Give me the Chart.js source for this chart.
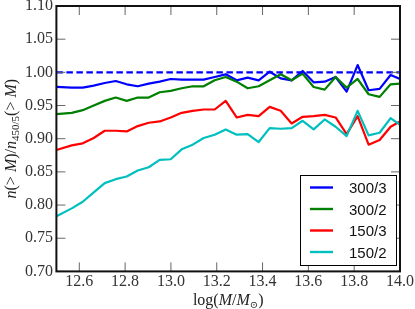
<!DOCTYPE html>
<html>
<head>
<meta charset="utf-8">
<script src="https://cdn.jsdelivr.net/npm/chart.js@4/dist/chart.umd.min.js"></script>
<style>
  html, body { margin: 0; padding: 0; background: #fff; }
  #wrap { width: 415px; height: 309px; }
</style>
</head>
<body>
<div id="wrap"><canvas id="c" width="415" height="309"></canvas></div>
<script>
// ---- data ----
const xs = [12.500, 12.567, 12.615, 12.663, 12.711, 12.759, 12.807, 12.855, 12.903, 12.951,
            12.999, 13.047, 13.095, 13.143, 13.191, 13.239, 13.287, 13.335, 13.383, 13.431,
            13.479, 13.527, 13.575, 13.623, 13.671, 13.719, 13.767, 13.815, 13.863, 13.911,
            13.959, 14.000];
const s300_3 = [0.978, 0.977, 0.977, 0.980, 0.984, 0.987, 0.982, 0.979, 0.983, 0.986,
                0.990, 0.989, 0.989, 0.989, 0.993, 0.997, 0.988, 0.992, 0.988, 1.001,
                0.991, 0.988, 1.002, 0.985, 0.986, 0.993, 0.971, 1.011, 0.973, 0.975,
                0.996, 0.990];
const s300_2 = [0.937, 0.939, 0.943, 0.950, 0.957, 0.962, 0.957, 0.962, 0.962, 0.970,
                0.972, 0.976, 0.979, 0.979, 0.988, 0.993, 0.986, 0.976, 0.979, 0.988,
                0.997, 0.988, 0.998, 0.978, 0.974, 0.993, 0.977, 0.990, 0.967, 0.963,
                0.982, 0.983];
const s150_3 = [0.883, 0.890, 0.893, 0.901, 0.912, 0.912, 0.911, 0.919, 0.924, 0.926,
                0.932, 0.939, 0.942, 0.944, 0.944, 0.957, 0.932, 0.936, 0.934, 0.948,
                0.942, 0.923, 0.933, 0.934, 0.936, 0.932, 0.907, 0.934, 0.891, 0.898,
                0.918, 0.926];
const s150_2 = [0.783, 0.795, 0.805, 0.819, 0.833, 0.839, 0.843, 0.852, 0.857, 0.868,
                0.869, 0.884, 0.891, 0.901, 0.906, 0.914, 0.906, 0.907, 0.895, 0.916,
                0.915, 0.916, 0.927, 0.914, 0.929, 0.918, 0.904, 0.942, 0.905, 0.909,
                0.931, 0.921];
const refX = [12.5, 14.0];
const refY = [1.0, 1.0];
const seriesNames = ['300/3', '300/2', '150/3', '150/2'];
const seriesColors = ['#0000ff', '#008000', '#ff0000', '#00bfbf'];
const xTicks = [12.6, 12.8, 13.0, 13.2, 13.4, 13.6, 13.8, 14.0];
const yTicks = [0.70, 0.75, 0.80, 0.85, 0.90, 0.95, 1.00, 1.05, 1.10];

const seriesValues = [s300_3, s300_2, s150_3, s150_2];
const pts = (xa, ya) => xa.map((x, i) => ({ x: x, y: ya[i] }));

const datasets = seriesValues.map((vals, i) => ({
  label: seriesNames[i],
  data: pts(xs, vals),
  borderColor: seriesColors[i],
  backgroundColor: seriesColors[i],
  borderWidth: 2.2,
  pointRadius: 0,
  tension: 0,
  borderJoinStyle: 'round',
  clip: 0,
  order: 4 - i
}));
datasets.push({
  label: 'ref',
  data: pts(refX, refY),
  borderColor: '#0000ff',
  borderWidth: 2.4,
  borderDash: [6.5, 3.5],
  pointRadius: 0,
  clip: 0,
  order: 0
});

const SERIF = '"Liberation Serif", "DejaVu Serif", serif';
const SANS = '"Liberation Sans", Arial, sans-serif';

function drawRich(ctx, segs, cx, baseY) {
  let total = 0;
  segs.forEach(s => {
    ctx.font = (s.italic ? 'italic ' : '') + s.size + 'px ' + SERIF;
    s.w = ctx.measureText(s.t).width;
    total += s.w;
  });
  let x = cx - total / 2;
  segs.forEach(s => {
    ctx.font = (s.italic ? 'italic ' : '') + s.size + 'px ' + SERIF;
    ctx.fillText(s.t, x, baseY + (s.dy || 0));
    x += s.w;
  });
}

const decor = {
  id: 'decor',
  afterDatasetsDraw(chart) {
    const { ctx, chartArea: a, scales: { x, y } } = chart;
    ctx.save();
    // inward ticks on all four sides
    ctx.strokeStyle = '#666';
    ctx.lineWidth = 1;
    const L = 9;
    ctx.beginPath();
    xTicks.forEach(v => {
      const px = x.getPixelForValue(v);
      ctx.moveTo(px, a.bottom); ctx.lineTo(px, a.bottom - L);
      ctx.moveTo(px, a.top); ctx.lineTo(px, a.top + L);
    });
    yTicks.forEach(v => {
      const py = y.getPixelForValue(v);
      ctx.moveTo(a.left, py); ctx.lineTo(a.left + L, py);
      ctx.moveTo(a.right, py); ctx.lineTo(a.right - L, py);
    });
    ctx.stroke();
    // frame
    ctx.strokeStyle = '#111';
    ctx.lineWidth = 2;
    ctx.strokeRect(a.left, a.top, a.right - a.left, a.bottom - a.top);

    // legend
    const bw = 96, bh = 90;
    const bx = a.right - 4 - bw, by = a.bottom - 6.4 - bh;
    ctx.fillStyle = '#fff';
    ctx.fillRect(bx, by, bw, bh);
    ctx.strokeStyle = '#000';
    ctx.lineWidth = 1;
    ctx.strokeRect(bx + 0.5, by + 0.5, bw, bh);
    ctx.font = '15px ' + SANS;
    ctx.textBaseline = 'middle';
    ctx.textAlign = 'left';
    seriesNames.forEach((name, i) => {
      const ry = by + 12.5 + 21.5 * i;
      ctx.strokeStyle = seriesColors[i];
      ctx.lineWidth = 2.4;
      ctx.beginPath();
      ctx.moveTo(bx + 10, ry); ctx.lineTo(bx + 33, ry);
      ctx.stroke();
      ctx.fillStyle = '#111';
      ctx.fillText(name, bx + 49, ry + 1.5);
    });

    // axis titles
    ctx.fillStyle = '#222';
    ctx.textBaseline = 'alphabetic';
    ctx.textAlign = 'left';
    drawRich(ctx, [
      { t: 'log(', size: 16 },
      { t: 'M', size: 16, italic: true },
      { t: '/', size: 16 },
      { t: 'M', size: 16, italic: true },
      { t: '\u2299', size: 10, dy: 3 },
      { t: ')', size: 16 }
    ], (a.left + a.right) / 2, 304.5);

    ctx.translate(15.5, (a.top + a.bottom) / 2);
    ctx.rotate(-Math.PI / 2);
    drawRich(ctx, [
      { t: 'n', size: 16, italic: true },
      { t: '(> ', size: 16 },
      { t: 'M', size: 16, italic: true },
      { t: ')/', size: 16 },
      { t: 'n', size: 16, italic: true },
      { t: '450/5', size: 11, dy: 3.5 },
      { t: '(> ', size: 16 },
      { t: 'M', size: 16, italic: true },
      { t: ')', size: 16 }
    ], 0, 0);
    ctx.restore();
  }
};

new Chart(document.getElementById('c'), {
  type: 'line',
  data: { datasets: datasets },
  options: {
    responsive: false,
    animation: false,
    devicePixelRatio: 1,
    layout: { padding: { left: 0, right: 15, top: 6, bottom: 0 } },
    plugins: { legend: { display: false }, tooltip: { enabled: false } },
    scales: {
      x: {
        type: 'linear',
        min: 12.5, max: 14.0,
        grid: { display: false, drawTicks: false },
        border: { display: false },
        afterBuildTicks: s => { s.ticks = xTicks.map(v => ({ value: v })); },
        afterFit: s => { s.height = 37.6; s.paddingLeft = 0; s.paddingRight = 0; },
        ticks: {
          autoSkip: false, maxRotation: 0, padding: 1,
          color: '#333',
          font: { family: SERIF, size: 16 },
          callback: v => Number(v).toFixed(1)
        }
      },
      y: {
        type: 'linear',
        min: 0.70, max: 1.10,
        grid: { display: false, drawTicks: false },
        border: { display: false },
        afterBuildTicks: s => { s.ticks = yTicks.map(v => ({ value: v })); },
        afterFit: s => { s.width = 56.4; s.paddingTop = 0; s.paddingBottom = 0; },
        ticks: {
          autoSkip: false, padding: 3.5,
          color: '#333',
          font: { family: SERIF, size: 16 },
          callback: v => Number(v).toFixed(2)
        }
      }
    }
  },
  plugins: [decor]
});
</script>
</body>
</html>
